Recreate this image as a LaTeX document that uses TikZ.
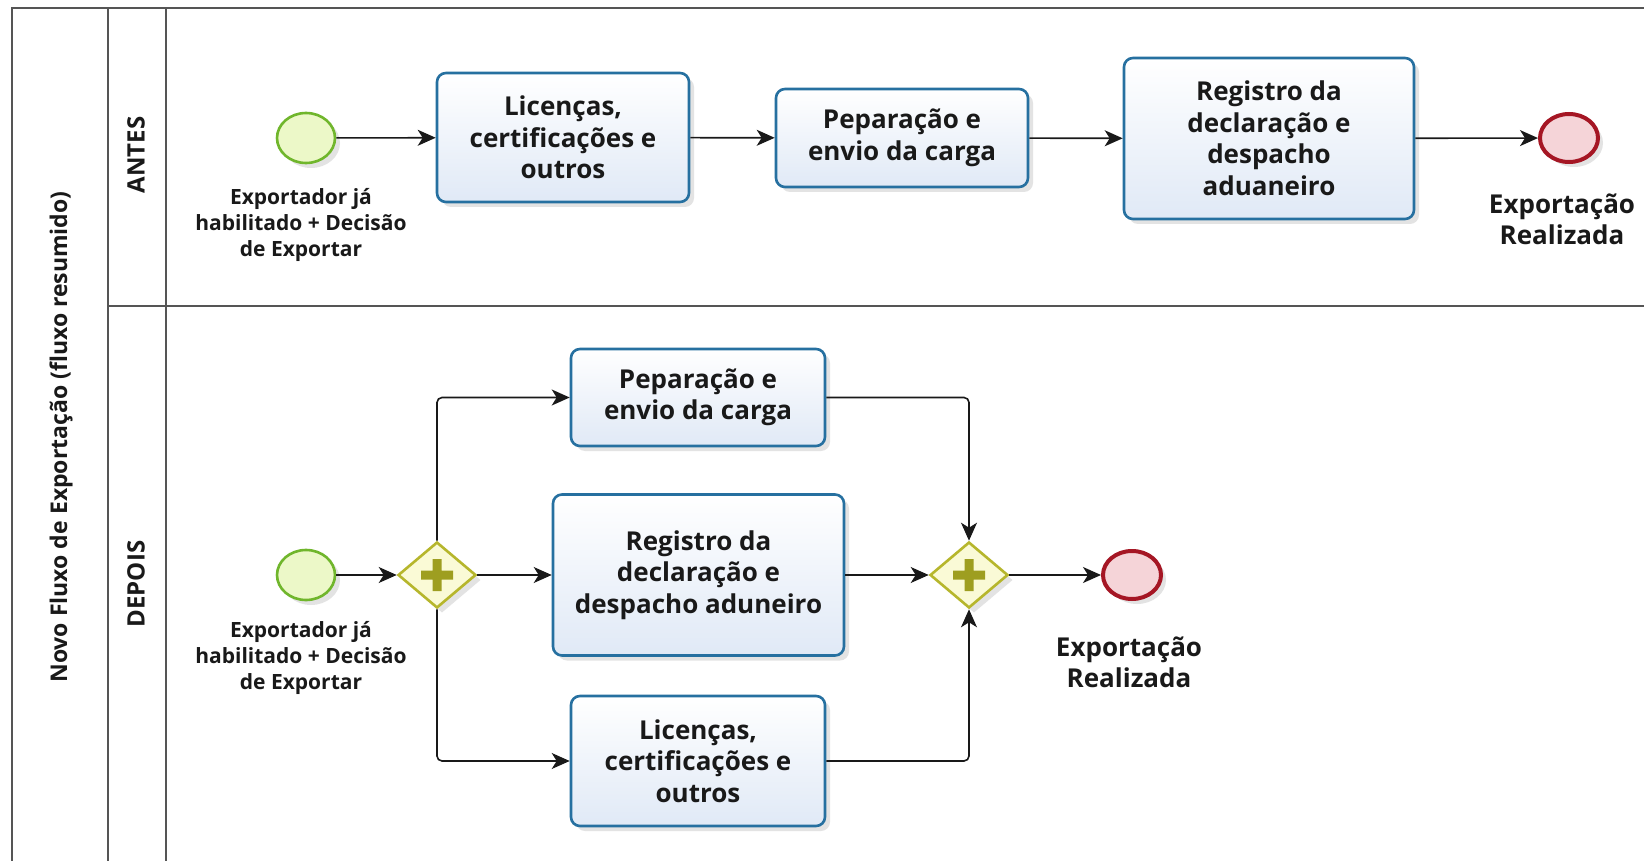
\documentclass[tikz,border=0pt]{standalone}
\usepackage{fontspec}
\setmainfont{Open Sans}
\usetikzlibrary{arrows.meta,shapes.geometric,shadows}
\definecolor{poolline}{RGB}{85,85,85}
\definecolor{taskline}{RGB}{38,112,160}
\definecolor{taskfill}{RGB}{224,233,246}
\definecolor{startline}{RGB}{112,182,44}
\definecolor{startfill}{RGB}{236,248,200}
\definecolor{endline}{RGB}{165,22,36}
\definecolor{endfill}{RGB}{245,212,216}
\definecolor{gwline}{RGB}{182,182,44}
\definecolor{gwfill}{RGB}{250,250,214}
\definecolor{gwcross}{RGB}{158,158,32}
\definecolor{txt}{RGB}{25,25,25}
\tikzset{
	pool/.style={draw=poolline, line width=2pt},
	poolname/.style={text=txt, font=\fontsize{23}{28}\selectfont\bfseries},
	lanename/.style={text=txt, font=\fontsize{24}{28}\selectfont\bfseries},
	bpmnshadow/.style={drop shadow={shadow xshift=5pt, shadow yshift=-5pt, opacity=0.18, fill=black!60}},
	task/.style={draw=taskline, line width=2.6pt, rounded corners=9pt, top color=white, bottom color=taskfill, align=center, text=txt, inner sep=0pt, font=\fontsize{26}{31.5}\selectfont\bfseries, bpmnshadow},
	startev/.style={ellipse, draw=startline, line width=2.6pt, fill=startfill, minimum width=58pt, minimum height=50pt, inner sep=0pt, bpmnshadow},
	endev/.style={ellipse, draw=endline, line width=4pt, fill=endfill, minimum width=58pt, minimum height=48pt, inner sep=0pt, bpmnshadow},
	gateway/.style={diamond, draw=gwline, line width=2.6pt, fill=gwfill, minimum width=78pt, minimum height=66pt, inner sep=0pt, bpmnshadow},
	gwplus/.style={fill=gwcross},
	startname/.style={align=center, text=txt, font=\fontsize{21}{26}\selectfont\bfseries},
	endname/.style={align=center, text=txt, font=\fontsize{26}{31}\selectfont\bfseries},
	flow/.style={draw=black!90, line width=1.6pt, rounded corners=5pt, -{Stealth[length=18pt, width=16pt, inset=5pt]}}
}
\begin{document}
\begin{tikzpicture} [x=1pt, y=-1pt]
	\useasboundingbox (0,0) rectangle (1644,861);
	\fill [white] (0,0) rectangle (1644,861);
	\clip (0,0) rectangle (1644,861);
	\draw [pool] (12,8) rectangle (1700,900);
	\draw [pool] (108,8) -- (108,900) (166,8) -- (166,900) (108,306) -- (1700,306);
	\node [poolname, rotate=90] (pool) at (61,437) {Novo Fluxo de Exportação (fluxo resumido)};
	\node [lanename, rotate=90] (antes) at (136,155) {ANTES};
	\node [lanename, rotate=90] (depois) at (136,584) {DEPOIS};
	\node [startev] (astart) at (306,138) {};
	\node [startname] (astartl) at (301,225) {Exportador já\\habilitado + Decisão\\de Exportar};
	\node [task, minimum width=252pt, minimum height=129pt] (alic) at (563,137.5) {Licenças,\\certificações e\\outros};
	\node [task, minimum width=252pt, minimum height=98pt] (aprep) at (902,138) {Peparação e\\envio da carga};
	\node [task, minimum width=290pt, minimum height=161pt] (areg) at (1269,138.5) {Registro da\\declaração e\\despacho\\aduaneiro};
	\node [endev] (aend) at (1569,138) {};
	\node [endname] (aendl) at (1562,219) {Exportação\\Realizada};
	\draw [flow] (astart) -- (alic);
	\draw [flow] (alic) -- (aprep);
	\draw [flow] (aprep) -- (areg);
	\draw [flow] (areg) -- (aend);
	\node [startev] (dstart) at (306,575) {};
	\node [startname] (dstartl) at (301,658) {Exportador já\\habilitado + Decisão\\de Exportar};
	\node [gateway] (gsplit) at (437,575) {};
	\fill [gwplus] (gsplit.center) ++(-16,-4.5) rectangle ++(32,9) (gsplit.center) ++(-4.5,-16) rectangle ++(9,32);
	\node [task, minimum width=254pt, minimum height=97pt] (dprep) at (698,397.5) {Peparação e\\envio da carga};
	\node [task, minimum width=291pt, minimum height=161pt] (dreg) at (698.5,575) {Registro da\\declaração e\\despacho aduneiro};
	\node [task, minimum width=254pt, minimum height=130pt] (dlic) at (698,761) {Licenças,\\certificações e\\outros};
	\node [gateway] (gjoin) at (969,575) {};
	\fill [gwplus] (gjoin.center) ++(-16,-4.5) rectangle ++(32,9) (gjoin.center) ++(-4.5,-16) rectangle ++(9,32);
	\node [endev] (dend) at (1132,575) {};
	\node [endname] (dendl) at (1129,662) {Exportação\\Realizada};
	\draw [flow] (dstart) -- (gsplit);
	\draw [flow] (gsplit.north) |- (dprep.west);
	\draw [flow] (gsplit) -- (dreg);
	\draw [flow] (gsplit.south) |- (dlic.west);
	\draw [flow] (dprep.east) -| (gjoin.north);
	\draw [flow] (dreg) -- (gjoin);
	\draw [flow] (dlic.east) -| (gjoin.south);
	\draw [flow] (gjoin) -- (dend);
\end{tikzpicture}
\end{document}
